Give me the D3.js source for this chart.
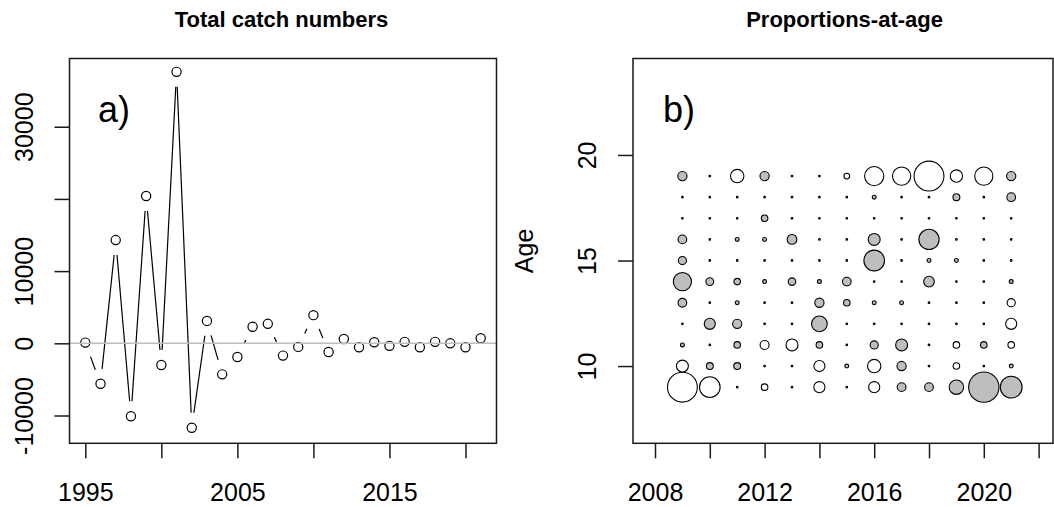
<!DOCTYPE html>
<html>
<head>
<meta charset="utf-8">
<script src="https://cdn.jsdelivr.net/npm/d3@7/dist/d3.min.js"></script>
<style>
    body { margin: 0; background: #ffffff; }
    svg { display: block; }
</style>
</head>
<body>
<div id="chart"></div>
<script>
// panel a) total catch numbers
var catchYears = [1995, 1996, 1997, 1998, 1999, 2000, 2001, 2002, 2003, 2004, 2005, 2006, 2007, 2008,
                  2009, 2010, 2011, 2012, 2013, 2014, 2015, 2016, 2017, 2018, 2019, 2020, 2021];
var catchNumbers = [100, -5600, 14300, -10100, 20400, -3000, 37600, -11700, 3100, -4300, -1900, 2300, 2700, -1700,
                    -500, 3900, -1200, 600, -550, 150, -350, 200, -550, 200, 0, -550, 700];
var catchXTicks = [1995, 2000, 2005, 2010, 2015, 2020];
var catchXLabels = ["1995", "", "2005", "", "2015", ""];
var catchYTicks = [-10000, 0, 10000, 20000, 30000];
var catchYLabels = ["-10000", "0", "10000", "", "30000"];

// panel b) proportions-at-age residuals, one row per age (grey = positive, white = negative)
var propYears = [2009, 2010, 2011, 2012, 2013, 2014, 2015, 2016, 2017, 2018, 2019, 2020, 2021];
var propAges = [19, 18, 17, 16, 15, 14, 13, 12, 11, 10, 9];
var propResiduals = [
    [9, 0.3, -19, 9, 0.3, 0.3, -3.5, -39, -35, -94, -16, -35, 9],
    [0.3, 0.3, 0.3, 0.3, 0.3, 0.3, 0.3, 1.6, 0.3, 0.3, 5, 0.3, 8],
    [0.3, 0.3, 0.3, 4.5, 0.3, 0.3, 0.3, 0.3, 0.3, 0.3, 0.3, 0.3, 0.3],
    [8, 0.3, 1.6, 1.6, 10, 0.3, 0.3, 15, 0.3, 43, 0.3, 0.3, 0.3],
    [7, 0.3, 0.3, 0.3, 0.3, 0.3, 0.3, 45, 0.3, 1.6, 1.6, 0.3, 0.3],
    [35, 6.5, 4.5, 1.6, 6, 1.6, 8, 0.3, 0.3, 12, 0.3, 0.3, 1.6],
    [8, 0.3, 1.6, 0.3, 0.3, 9, 4.5, 1.6, 1.6, 0.3, 0.3, 0.3, -7],
    [0.3, 13, 9, 0.3, 0.3, 26, 0.3, 0.3, 0.3, 0.3, 0.3, 0.3, -13],
    [1.6, 0.3, 4.5, -8.5, -15, 4.5, 0.3, 7, 15, 0.3, -4.5, 4.5, -4.5],
    [-15, 5, 5, 0.3, 0.3, -13, 1.6, -19, 9, 0.3, -4.5, 0.3, 1.6],
    [-94, -45, 0.3, -4.5, 0.3, -13, 0.3, -13, 8, 8, 22, 97, 50]
];
var propXTicks = [2008, 2010, 2012, 2014, 2016, 2018, 2020, 2022];
var propXLabels = ["2008", "", "2012", "", "2016", "", "2020", ""];
var propYTicks = [10, 15, 20];
var propYLabels = ["10", "15", "20"];

(function() {
    var width = 1054,
        height = 507,
        fontFamily = "'Liberation Sans', Arial, sans-serif",
        axisFont = 25,
        tickLength = 15,
        boxTop = 58.5,
        boxBottom = 443.3,
        inkColor = "#1a1a1a",
        pointGap = 15;

    var svg = d3.select("#chart")
                .append("svg")
                .attr("width", width)
                .attr("height", height)
                .style("font-family", fontFamily);

    function drawBox(x0, x1) {
        svg.append("rect")
           .attr("x", x0)
           .attr("y", boxTop)
           .attr("width", x1 - x0)
           .attr("height", boxBottom - boxTop)
           .attr("fill", "none")
           .attr("stroke", inkColor)
           .attr("stroke-width", 1.5);
    }

    function drawTitle(text, cx) {
        svg.append("text")
           .attr("x", cx)
           .attr("y", 27)
           .attr("text-anchor", "middle")
           .attr("font-size", 22)
           .attr("font-weight", "bold")
           .attr("fill", "#000")
           .text(text);
    }

    function drawXAxis(scale, ticks, labels) {
        var g = svg.append("g")
                   .attr("transform", "translate(0," + boxBottom + ")")
                   .call(d3.axisBottom(scale)
                           .tickValues(ticks)
                           .tickFormat(function(d, i) {return labels[i]; })
                           .tickSize(tickLength)
                           .tickPadding(25));
        g.select(".domain").remove();
        g.selectAll("line").attr("stroke", inkColor).attr("stroke-width", 1.5);
        g.selectAll("text")
         .attr("font-size", axisFont)
         .attr("font-family", fontFamily)
         .attr("fill", "#000");
    }

    function drawYAxis(scale, ticks, labels, x0) {
        var g = svg.append("g")
                   .attr("transform", "translate(" + x0 + ",0)")
                   .call(d3.axisLeft(scale)
                           .tickValues(ticks)
                           .tickFormat(function(d, i) {return labels[i]; })
                           .tickSize(tickLength));
        g.select(".domain").remove();
        g.selectAll("line").attr("stroke", inkColor).attr("stroke-width", 1.5);
        //labels run parallel to the axis, like R's default las=0
        g.selectAll("text")
         .attr("x", 0)
         .attr("y", -37)
         .attr("dy", 0)
         .attr("text-anchor", "middle")
         .attr("transform", "rotate(-90)")
         .attr("font-size", axisFont)
         .attr("font-family", fontFamily)
         .attr("fill", "#000");
    }

    function panelLetter(text, x) {
        svg.append("text")
           .attr("x", x)
           .attr("y", 122)
           .attr("font-size", 36)
           .attr("fill", "#000")
           .text(text);
    }

    // ---------- panel a ----------
    var ax0 = 69.5, ax1 = 496.5;
    var xa = d3.scaleLinear().domain([1993.96, 2022.04]).range([ax0, ax1]);
    var ya = d3.scaleLinear().domain([-13850, 39450]).range([boxBottom, boxTop]);

    var catchPoints = catchYears.map(function(yr, i) {
        return {x : xa(yr), y : ya(catchNumbers[i])};
    });

    //type="b": segments stop short of each point, short ones vanish
    var segments = d3.pairs(catchPoints).map(function(p) {
        var dx = p[1].x - p[0].x,
            dy = p[1].y - p[0].y,
            len = Math.sqrt(dx * dx + dy * dy);
        if (len <= 2 * pointGap) {
            return null;
        }
        var ux = dx / len, uy = dy / len;
        return {x1 : p[0].x + ux * pointGap, y1 : p[0].y + uy * pointGap,
                x2 : p[1].x - ux * pointGap, y2 : p[1].y - uy * pointGap};
    }).filter(function(s) {return s !== null; });

    svg.append("g")
       .selectAll("line")
       .data(segments)
       .enter()
       .append("line")
       .attr("x1", function(d) {return d.x1; })
       .attr("y1", function(d) {return d.y1; })
       .attr("x2", function(d) {return d.x2; })
       .attr("y2", function(d) {return d.y2; })
       .attr("stroke", "#000")
       .attr("stroke-width", 1.2);

    svg.append("g")
       .selectAll("circle")
       .data(catchPoints)
       .enter()
       .append("circle")
       .attr("cx", function(d) {return d.x; })
       .attr("cy", function(d) {return d.y; })
       .attr("r", 4.6)
       .attr("fill", "none")
       .attr("stroke", "#000")
       .attr("stroke-width", 1.2);

    svg.append("line")
       .attr("x1", ax0)
       .attr("x2", ax1)
       .attr("y1", ya(0))
       .attr("y2", ya(0))
       .attr("stroke", "#bebebe")
       .attr("stroke-width", 1.5);

    drawBox(ax0, ax1);
    drawXAxis(xa, catchXTicks, catchXLabels);
    drawYAxis(ya, catchYTicks, catchYLabels, ax0);
    drawTitle("Total catch numbers", (ax0 + ax1) / 2 - 1.5);
    panelLetter("a)", 98);

    // ---------- panel b ----------
    var bx0 = 633, bx1 = 1053;
    var xb = d3.scaleLinear().domain([2007.197, 2007.197 + (bx1 - bx0) / 27.4]).range([bx0, bx1]);
    var yb = d3.scaleLinear().domain([6.34, 24.57]).range([boxBottom, boxTop]);
    var rb = d3.scaleSqrt().domain([0, 100]).range([0, 15.4]);

    var cells = [];
    propYears.forEach(function(yr, j) {
        for (var i = propAges.length - 1; i >= 0; i -= 1) {
            cells.push({year : yr, age : propAges[i], value : propResiduals[i][j]});
        }
    });

    svg.append("g")
       .selectAll("circle")
       .data(cells)
       .enter()
       .append("circle")
       .attr("cx", function(d) {return xb(d.year); })
       .attr("cy", function(d) {return yb(d.age); })
       .attr("r", function(d) {return rb(Math.abs(d.value)); })
       .attr("fill", function(d) {return d.value > 0 ? "#bebebe" : "#ffffff"; })
       .attr("stroke", "#000")
       .attr("stroke-width", 1.1);

    drawBox(bx0, bx1);
    drawXAxis(xb, propXTicks, propXLabels);
    drawYAxis(yb, propYTicks, propYLabels, bx0);
    drawTitle("Proportions-at-age", 844.6);
    panelLetter("b)", 663);

    svg.append("text")
       .attr("transform", "translate(533," + ((boxTop + boxBottom) / 2) + ") rotate(-90)")
       .attr("text-anchor", "middle")
       .attr("font-size", axisFont)
       .attr("fill", "#000")
       .text("Age");
})();
</script>
</body>
</html>
